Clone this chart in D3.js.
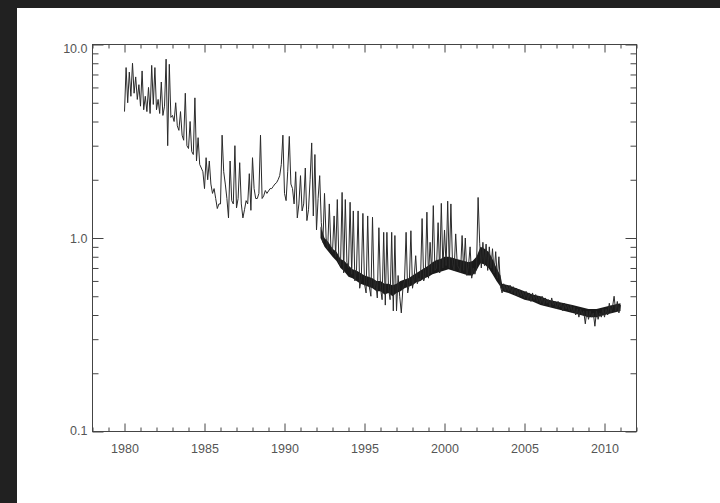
<!DOCTYPE html>
<html>
<head>
<meta charset="utf-8">
<script src="https://cdn.jsdelivr.net/npm/d3@7"></script>
<style>
  body { margin: 0; background: #fff; }
  .tick text { font-family: "Liberation Sans", Arial, sans-serif; font-size: 12.5px; fill: #555; }
</style>
</head>
<body>
<div id="chart"></div>
<script>
"use strict"

// sampled every 0.1 year, starting 1980.0 (one row per year)
var startYear = 1980,
  stepYear = 0.1;

var values = [
  4.5, 7.6, 5.0, 7.2, 5.4, 8.0, 5.6, 6.8, 5.2, 6.2,      // 1980
  4.8, 7.3, 4.6, 5.4, 4.5, 6.0, 4.4, 7.8, 4.9, 7.6,      // 1981
  4.6, 5.2, 4.4, 6.4, 4.3, 4.8, 8.4, 3.0, 7.9, 4.2,      // 1982
  4.3, 4.0, 5.0, 3.8, 3.6, 4.5, 3.4, 3.2, 5.6, 3.0,      // 1983
  2.9, 4.0, 2.8, 2.7, 5.3, 2.5, 3.3, 2.4, 2.3, 2.2,      // 1984
  1.8, 2.6, 2.0, 2.5, 1.9, 1.7, 1.8, 1.6, 1.42, 1.5,     // 1985
  1.5, 3.4, 2.2, 1.9, 1.6, 1.27, 2.5, 1.56, 1.5, 3.0,    // 1986
  1.43, 1.6, 2.45, 1.5, 1.27, 1.4, 1.56, 1.5, 2.15, 1.39, // 1987
  2.6, 1.8, 1.6, 1.6, 1.7, 3.4, 1.6, 1.65, 1.76, 1.7,    // 1988
  1.75, 1.8, 1.8, 1.85, 1.9, 1.93, 2.0, 2.1, 2.4, 3.4,   // 1989
  1.7, 1.56, 2.2, 3.35, 1.9, 1.8, 1.5, 2.2, 1.27, 1.5,   // 1990
  2.1, 1.38, 1.5, 2.3, 1.23, 1.4, 2.0, 3.1, 1.3, 2.7,    // 1991
  1.1, 1.6, 2.1, 1.2, 0.95, 1.7, 1.0, 0.88, 1.5, 0.9,    // 1992
  0.85, 1.3, 0.8, 1.58, 0.75, 0.72, 1.72, 0.66, 1.58, 0.75, // 1993
  0.7, 1.53, 0.65, 1.38, 0.6, 0.68, 1.38, 0.55, 0.62, 1.34, // 1994
  0.58, 0.52, 1.3, 0.56, 0.5, 1.28, 0.55, 0.6, 0.49, 1.13,  // 1995
  0.55, 0.48, 1.07, 0.45, 1.07, 0.55, 0.48, 1.07, 0.42, 1.03, // 1996
  0.42, 0.64, 0.5, 0.41, 0.55, 0.6, 1.07, 0.52, 0.58, 1.09,  // 1997
  0.55, 0.62, 0.81, 0.58, 0.62, 0.6, 1.26, 0.6, 0.64, 1.36,  // 1998
  0.62, 0.95, 0.66, 1.47, 0.68, 0.7, 1.2, 0.66, 1.51, 0.7,   // 1999
  1.1, 0.72, 1.55, 0.7, 1.5, 0.74, 0.68, 1.05, 0.72, 0.7,    // 2000
  0.66, 1.03, 0.68, 1.0, 0.64, 0.72, 0.9, 0.62, 0.7, 0.65,   // 2001
  0.7, 1.62, 0.94, 0.7, 0.95, 0.72, 0.93, 0.68, 0.9, 0.7,    // 2002
  0.88, 0.66, 0.85, 0.62, 0.8, 0.56, 0.52, 0.58, 0.53, 0.57, // 2003
  0.53, 0.57, 0.52, 0.56, 0.51, 0.55, 0.5, 0.54, 0.5, 0.53,  // 2004
  0.49, 0.53, 0.48, 0.52, 0.47, 0.52, 0.48, 0.51, 0.47, 0.5, // 2005
  0.46, 0.5, 0.45, 0.49, 0.46, 0.48, 0.44, 0.49, 0.45, 0.47, // 2006
  0.43, 0.47, 0.44, 0.46, 0.42, 0.46, 0.43, 0.45, 0.42, 0.45, // 2007
  0.41, 0.44, 0.4, 0.43, 0.39, 0.43, 0.4, 0.42, 0.36, 0.42,  // 2008
  0.38, 0.42, 0.39, 0.41, 0.35, 0.42, 0.38, 0.41, 0.39, 0.43, // 2009
  0.39, 0.43, 0.4, 0.46, 0.41, 0.44, 0.5, 0.42, 0.47, 0.41,  // 2010
  0.45                                                     // 2011
];

// envelope of the dense daily scatter (where the trace is solid black)
var bandYears = [
  1992.25, 1992.5, 1992.75, 1993.0, 1993.25, 1993.5, 1993.75, 1994.0, 1994.25, 1994.5, 1994.75,
  1995.0, 1995.25, 1995.5, 1995.75, 1996.0, 1996.25, 1996.5, 1996.75, 1997.0, 1997.25, 1997.5, 1997.75,
  1998.0, 1998.25, 1998.5, 1998.75, 1999.0, 1999.25, 1999.5, 1999.75, 2000.0, 2000.25, 2000.5, 2000.75,
  2001.0, 2001.25, 2001.5, 2001.75, 2002.0, 2002.25, 2002.5, 2002.75, 2003.0, 2003.25, 2003.5, 2003.6,
  2004.0, 2004.5, 2005.0, 2005.5, 2006.0, 2006.5, 2007.0, 2007.5, 2008.0, 2008.5,
  2009.0, 2009.5, 2010.0, 2010.5, 2011.0];
var bandLow = [
  1.0, 0.9, 0.85, 0.8, 0.76, 0.7, 0.67, 0.63, 0.62, 0.6, 0.58,
  0.57, 0.56, 0.55, 0.53, 0.53, 0.51, 0.52, 0.5, 0.52, 0.53, 0.55, 0.56,
  0.57, 0.59, 0.6, 0.62, 0.63, 0.65, 0.66, 0.67, 0.68, 0.69, 0.68, 0.67,
  0.66, 0.65, 0.64, 0.64, 0.68, 0.74, 0.73, 0.7, 0.65, 0.6, 0.56, 0.53,
  0.52, 0.5, 0.48, 0.47, 0.45, 0.44, 0.43, 0.42, 0.41, 0.4,
  0.39, 0.39, 0.4, 0.41, 0.42];
var bandHigh = [
  1.15, 1.0, 0.95, 0.88, 0.85, 0.78, 0.76, 0.72, 0.69, 0.68, 0.66,
  0.64, 0.63, 0.62, 0.6, 0.6, 0.58, 0.58, 0.57, 0.58, 0.6, 0.61, 0.62,
  0.64, 0.66, 0.68, 0.7, 0.72, 0.75, 0.77, 0.78, 0.8, 0.8, 0.79, 0.78,
  0.77, 0.76, 0.75, 0.76, 0.8, 0.9, 0.88, 0.85, 0.78, 0.7, 0.64, 0.58,
  0.57, 0.55, 0.53, 0.51, 0.5, 0.48, 0.47, 0.46, 0.45, 0.44,
  0.43, 0.43, 0.44, 0.45, 0.46];

var xTickYears = [1980, 1985, 1990, 1995, 2000, 2005, 2010];
var yTickValues = [0.1, 1, 10];
var yTickLabels = ['0.1', '1.0', '10.0'];

var W = 720, H = 503,
  plotL = 92.5, plotR = 636.5, plotT = 44.5, plotB = 431.5;

var svg = d3.select('#chart').append('svg')
  .attr('width', W)
  .attr('height', H);

// dark frame of the screenshot
svg.append('rect').attr('width', W).attr('height', H).attr('fill', '#fff');
svg.append('rect').attr('width', 17).attr('height', H).attr('fill', '#212121');
svg.append('rect').attr('width', W).attr('height', 8).attr('fill', '#212121');

var xScale = d3.scaleLinear()
  .domain([1978, 2012])
  .range([plotL, plotR]);

var yScale = d3.scaleLog()
  .domain([0.1, 10])
  .range([plotB, plotT]);

var minorYears = d3.range(1978, 2013).filter(y => y % 5 != 0);
var minorY = [];
[0.1, 1].forEach(d => { for (var k = 2; k <= 9; k++) minorY.push(+(d * k).toFixed(2)); });

function axisGroup(axis, tx, ty) {
  var g = svg.append('g')
    .attr('transform', 'translate(' + tx + ',' + ty + ')')
    .call(axis);
  g.select('.domain').remove();
  g.selectAll('line').attr('stroke', '#444');
  return g;
}

// bottom axis with labels
axisGroup(d3.axisTop(xScale).tickValues(xTickYears).tickSize(8).tickFormat(''), 0, plotB);
axisGroup(d3.axisTop(xScale).tickValues(minorYears).tickSize(4).tickFormat(''), 0, plotB);
axisGroup(d3.axisBottom(xScale).tickValues(xTickYears).tickSize(0).tickPadding(13).tickFormat(d3.format('d')), 0, plotB);
// top axis
axisGroup(d3.axisBottom(xScale).tickValues(xTickYears).tickSize(8).tickFormat(''), 0, plotT);
axisGroup(d3.axisBottom(xScale).tickValues(minorYears).tickSize(4).tickFormat(''), 0, plotT);

// left axis with labels
axisGroup(d3.axisRight(yScale).tickValues(yTickValues).tickSize(11).tickFormat(''), plotL, 0);
axisGroup(d3.axisRight(yScale).tickValues(minorY).tickSize(6).tickFormat(''), plotL, 0);
axisGroup(d3.axisLeft(yScale).tickValues(yTickValues).tickSize(0).tickPadding(5)
  .tickFormat((d, i) => yTickLabels[i]), plotL, 0)
  .selectAll('text').attr('dy', d => d == 10 ? '0.62em' : d == 1 ? '0.34em' : '0.2em');
// right axis
axisGroup(d3.axisLeft(yScale).tickValues(yTickValues).tickSize(11).tickFormat(''), plotR, 0);
axisGroup(d3.axisLeft(yScale).tickValues(minorY).tickSize(6).tickFormat(''), plotR, 0);

svg.selectAll('.tick text').attr('fill', '#555');

// plot box
svg.append('rect')
  .attr('x', plotL).attr('y', plotT)
  .attr('width', plotR - plotL).attr('height', plotB - plotT)
  .attr('fill', 'none')
  .attr('stroke', '#444')
  .attr('stroke-width', 1);

var band = bandYears.map((y, i) => ({ year: y, lo: bandLow[i], hi: bandHigh[i] }));

var area = d3.area()
  .x(d => xScale(d.year))
  .y0(d => yScale(d.lo))
  .y1(d => yScale(d.hi));

svg.append('path')
  .datum(band)
  .attr('d', area)
  .attr('fill', '#1a1a1a');

var line = d3.line()
  .x((d, i) => xScale(startYear + i * stepYear))
  .y(d => yScale(d));

svg.append('path')
  .datum(values)
  .attr('d', line)
  .attr('fill', 'none')
  .attr('stroke', '#2a2a2a')
  .attr('stroke-width', 1);
</script>
</body>
</html>
